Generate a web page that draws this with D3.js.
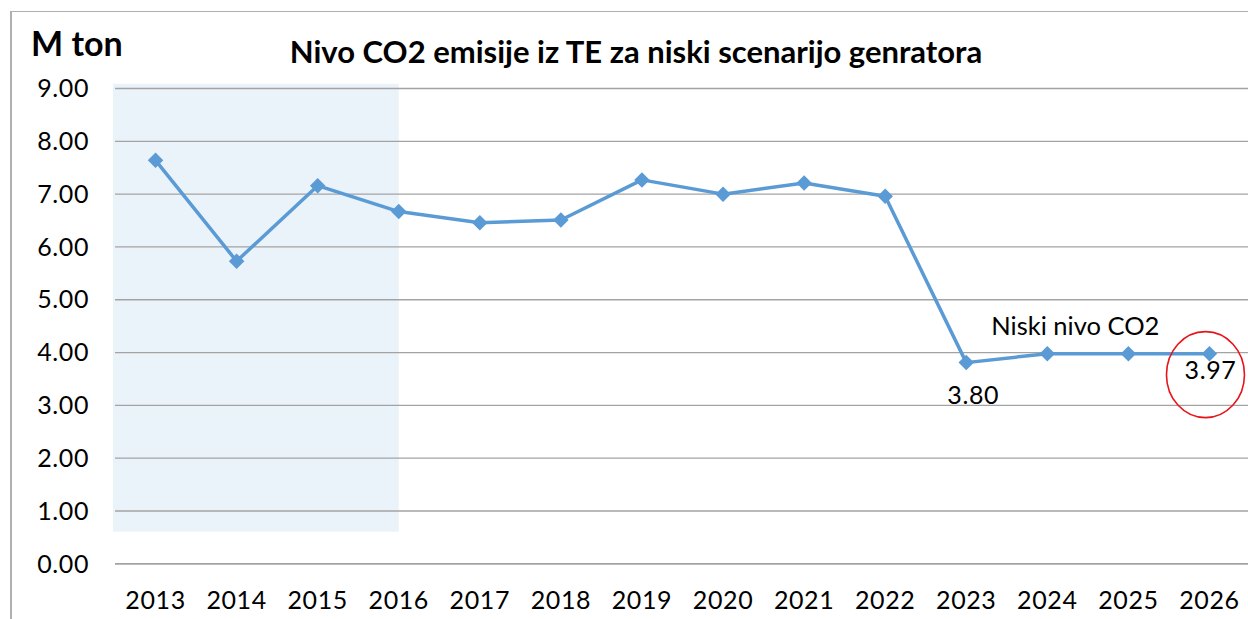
<!DOCTYPE html>
<html>
<head>
<meta charset="utf-8">
<script src="https://cdn.jsdelivr.net/npm/d3@7"></script>
<style>
  html, body { margin: 0; padding: 0; background: #ffffff; }
  svg { display: block; font-family: Lato, "Open Sans", sans-serif; }
</style>
</head>
<body>
<svg id="chart" width="1248" height="619"></svg>
<script>
// ---- data ----
const years = ["2013","2014","2015","2016","2017","2018","2019","2020","2021","2022","2023","2024","2025","2026"];
const emissions = [7.63, 5.72, 7.15, 6.66, 6.45, 6.50, 7.26, 6.99, 7.20, 6.95, 3.80, 3.97, 3.97, 3.97];
const yTicks = [0, 1, 2, 3, 4, 5, 6, 7, 8, 9];
const yTickLabels = ["0.00","1.00","2.00","3.00","4.00","5.00","6.00","7.00","8.00","9.00"];
const highlightYears = ["2013", "2016"];
const highlightRange = [0.6, 9.08];
const titleText = "Nivo CO2 emisije iz TE za niski scenarijo genratora";
const unitText = "M ton";
const noteText = "Niski nivo CO2";
const labelledPoints = [{year: "2023", text: "3.80"}, {year: "2026", text: "3.97"}];

// ---- layout ----
const W = 1248, H = 619;
const plot = {left: 115, right: 1250, top: 88, bottom: 563.3};
const svg = d3.select("#chart");

const x = d3.scaleBand().domain(years).range([plot.left, plot.right]);
const cx = d => x(d) + x.bandwidth() / 2;
const y = d3.scaleLinear().domain([0, 9]).range([plot.bottom, plot.top]);

// outer border (top & left)
svg.append("line").attr("x1", 11).attr("x2", W).attr("y1", 11.5).attr("y2", 11.5)
  .attr("stroke", "#b0b0b0").attr("stroke-width", 1.2);
svg.append("line").attr("x1", 11).attr("x2", 11).attr("y1", 11).attr("y2", H)
  .attr("stroke", "#b0b0b0").attr("stroke-width", 2);

// highlight band
svg.append("rect")
  .attr("x", x(highlightYears[0]) - 2)
  .attr("width", cx(highlightYears[1]) - x(highlightYears[0]) + 2)
  .attr("y", y(highlightRange[1]))
  .attr("height", y(highlightRange[0]) - y(highlightRange[1]))
  .attr("fill", "#EAF2FA");

// y axis with gridlines
const yAxis = d3.axisLeft(y)
  .tickValues(yTicks)
  .tickFormat((d, i) => yTickLabels[i])
  .tickSize(-(W - plot.left))
  .tickPadding(26);
const gy = svg.append("g").attr("transform", `translate(${plot.left},0)`).call(yAxis);
gy.select(".domain").remove();
gy.selectAll(".tick line").attr("stroke", "#a3a3a3").attr("stroke-width", d => d === 0 ? 1.8 : 1.3);
gy.selectAll(".tick text").attr("fill", "#000").attr("font-size", 25).attr("dy", "0.35em")
  .attr("font-family", "Lato, sans-serif").attr("letter-spacing", 0.6);

// x axis
const xAxis = d3.axisBottom(x).tickSize(0).tickPadding(28);
const gx = svg.append("g").attr("transform", `translate(0,${plot.bottom})`).call(xAxis);
gx.select(".domain").remove();
gx.selectAll(".tick text").attr("fill", "#000").attr("font-size", 25)
  .attr("font-family", "Lato, sans-serif").attr("letter-spacing", 0.6);

// line
const line = d3.line().x((d, i) => cx(years[i])).y(d => y(d));
svg.append("path").datum(emissions)
  .attr("d", line).attr("fill", "none")
  .attr("stroke", "#5B9BD5").attr("stroke-width", 3.5).attr("stroke-linejoin", "round");

// markers
const diamond = d3.symbol().type(d3.symbolSquare).size(120);
svg.selectAll(".mk").data(emissions).enter().append("path")
  .attr("class", "mk")
  .attr("d", diamond)
  .attr("transform", (d, i) => `translate(${cx(years[i])},${y(d)}) rotate(45)`)
  .attr("fill", "#5B9BD5");

// title & unit
svg.append("text").attr("x", 636).attr("y", 63).attr("text-anchor", "middle")
  .attr("font-weight", "bold").attr("font-size", 31).attr("fill", "#000").text(titleText);
svg.append("text").attr("x", 31).attr("y", 56).attr("font-weight", "bold")
  .attr("font-size", 34).attr("fill", "#000").text(unitText);

// annotations
const idx = yr => years.indexOf(yr);
const p0 = labelledPoints[0], p1 = labelledPoints[1];
svg.append("text").attr("x", cx(p0.year) + 7).attr("y", y(emissions[idx(p0.year)]) + 41)
  .attr("text-anchor", "middle").attr("font-size", 25).attr("letter-spacing", 0.6).text(p0.text);
svg.append("text").attr("x", cx(p1.year) + 1).attr("y", y(emissions[idx(p1.year)]) + 25)
  .attr("text-anchor", "middle").attr("font-size", 25).attr("letter-spacing", 0.6).text(p1.text);
svg.append("text").attr("x", cx("2024") + 28).attr("y", 335)
  .attr("text-anchor", "middle").attr("font-size", 25.5).text(noteText);

svg.append("ellipse")
  .attr("cx", cx(p1.year) - 4).attr("cy", y(emissions[idx(p1.year)]) + 21)
  .attr("rx", 39).attr("ry", 43)
  .attr("fill", "none").attr("stroke", "#E8141B").attr("stroke-width", 1.6);
</script>
</body>
</html>
